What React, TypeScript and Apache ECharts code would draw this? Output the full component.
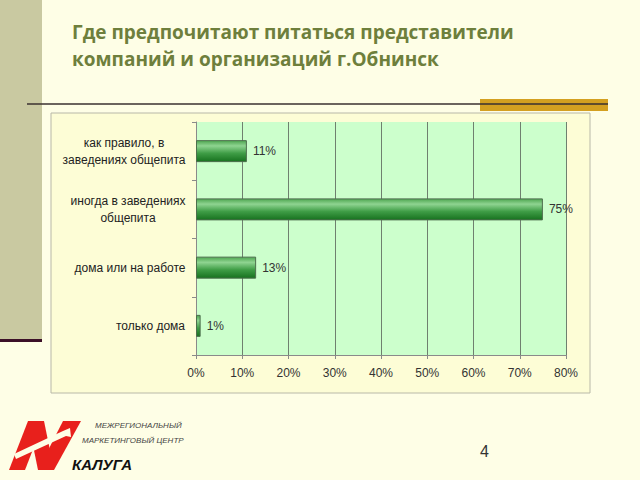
import React, { useEffect, useRef } from "react";
import * as echarts from "echarts";

const categories = [
  "как правило, в\nзаведениях общепита",
  "иногда в заведениях\nобщепита",
  "дома или на работе",
  "только дома",
];
const values = [11, 75, 13, 1];
const titleLines = [
  "Где предпочитают питаться представители",
  "компаний и организаций г.Обнинск",
];
const logoLines = ["МЕЖРЕГИОНАЛЬНЫЙ", "МАРКЕТИНГОВЫЙ ЦЕНТР", "КАЛУГА"];
const pageNumber = "4";

const labelFont = "12px 'Liberation Sans'";

function measure(text: string): number {
  const c = document.createElement("canvas").getContext("2d");
  if (!c) return text.length * 6.5;
  c.font = labelFont;
  return c.measureText(text).width;
}

export default function App() {
  const ref = useRef<HTMLDivElement>(null);
  useEffect(() => {
    if (!ref.current) return;
    const chart = echarts.init(ref.current, null, { renderer: "svg" });
    const red = "#e8201c";
    const bg = "#fefee6";
    const rich: Record<string, any> = {};
    const keyOf: Record<string, string> = {};
    categories.forEach((cat, i) => {
      const w = Math.ceil(Math.max(...cat.split("\n").map(measure))) + 1;
      const k = "c" + i;
      keyOf[cat] = k;
      rich[k] = {
        width: w,
        align: "center",
        color: "#222",
        fontFamily: "Liberation Sans",
        fontSize: 12,
        lineHeight: 17,
      };
    });
    chart.setOption({
      animation: false,
      backgroundColor: bg,
      grid: {
        left: 196,
        right: 74,
        top: 122,
        bottom: 125,
        show: true,
        backgroundColor: "#ccffcc",
        borderWidth: 0,
      },
      xAxis: {
        type: "value",
        min: 0,
        max: 80,
        interval: 10,
        axisLabel: {
          formatter: "{value}%",
          color: "#333",
          fontFamily: "Liberation Sans",
          fontSize: 12,
          margin: 12,
        },
        axisLine: { show: true, lineStyle: { color: "#8a8a8a" } },
        axisTick: { show: true, length: 4, lineStyle: { color: "#8a8a8a" } },
        splitLine: { show: true, lineStyle: { color: "#6f806f", width: 1 } },
      },
      yAxis: {
        type: "category",
        data: categories,
        inverse: true,
        axisLabel: {
          align: "right",
          margin: 10,
          formatter: (v: string) =>
            v
              .split("\n")
              .map((l) => `{${keyOf[v]}|${l}}`)
              .join("\n"),
          rich,
        },
        axisLine: { show: true, lineStyle: { color: "#8a8a8a" } },
        axisTick: { show: true, length: 4, lineStyle: { color: "#8a8a8a" } },
      },
      series: [
        {
          type: "bar",
          data: values,
          barWidth: 22,
          itemStyle: {
            color: new echarts.graphic.LinearGradient(0, 0, 0, 1, [
              { offset: 0, color: "#4ea650" },
              { offset: 0.25, color: "#8fd491" },
              { offset: 0.6, color: "#3f9d46" },
              { offset: 1, color: "#17721f" },
            ]),
            borderColor: "#4d6e4d",
            borderWidth: 1,
          },
          label: {
            show: true,
            position: "right",
            distance: 6,
            formatter: "{c}%",
            color: "#333",
            fontFamily: "Liberation Sans",
            fontSize: 12,
          },
        },
      ],
      graphic: [
        { type: "rect", z: -10, shape: { x: 0, y: 0, width: 42, height: 340 }, style: { fill: "#c9c9a1" } },
        { type: "rect", z: -10, shape: { x: 0, y: 339, width: 42, height: 3 }, style: { fill: "#3c1028" } },
        {
          type: "text",
          left: 72,
          top: 18,
          style: {
            text: titleLines.join("\n"),
            fill: "#6e7f3c",
            font: "bold 19px 'Open Sans'",
            lineHeight: 27,
          },
        },
        { type: "rect", z: -9, shape: { x: 480, y: 99, width: 128, height: 12 }, style: { fill: "#d4a020" } },
        { type: "line", z: -8, shape: { x1: 27, y1: 104, x2: 608, y2: 104 }, style: { stroke: "#3a3030", lineWidth: 1.5 } },
        {
          type: "rect",
          z: -10,
          shape: { x: 51, y: 113, width: 539, height: 280 },
          style: { fill: "#fdfdd6", stroke: "#b8b8a8", lineWidth: 1 },
        },
        { type: "polygon", shape: { points: [[9, 470], [25, 470], [44, 421], [28, 421]] }, style: { fill: red } },
        { type: "polygon", shape: { points: [[28, 421], [44, 421], [54, 470], [38, 470]] }, style: { fill: red } },
        { type: "polygon", shape: { points: [[38, 470], [54, 470], [81, 421], [63, 421]] }, style: { fill: red } },
        { type: "polygon", shape: { points: [[14, 454], [16, 459], [66, 436], [71, 437], [70, 428], [63, 431]] }, style: { fill: bg } },
        {
          type: "text",
          left: 95,
          top: 421,
          style: { text: logoLines[0], fill: "#444", font: "italic 8px 'Liberation Sans'" },
        },
        {
          type: "text",
          left: 82,
          top: 436,
          style: { text: logoLines[1], fill: "#444", font: "italic 8px 'Liberation Sans'" },
        },
        {
          type: "text",
          left: 72,
          top: 457,
          style: { text: logoLines[2], fill: "#111", font: "italic bold 15px 'Liberation Sans'" },
        },
        {
          type: "text",
          left: 480,
          top: 443,
          style: { text: pageNumber, fill: "#333", font: "16px 'Liberation Sans'" },
        },
      ],
    });
    return () => chart.dispose();
  }, []);
  return (
    <div
      ref={ref}
      style={{ position: "fixed", left: 0, top: 0, width: 640, height: 480 }}
    />
  );
}
